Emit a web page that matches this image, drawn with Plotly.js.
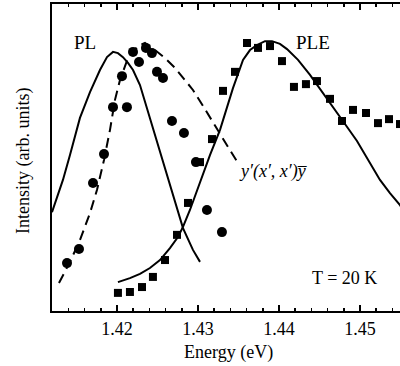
<!DOCTYPE html>
<html>
<head>
<meta charset="utf-8">
<script src="https://cdn.plot.ly/plotly-3.0.1.min.js"></script>
<style>html,body{margin:0;padding:0;background:#fff;}#chart{width:400px;height:366px;}</style>
</head>
<body>
<div id="chart"></div>
<script>
// Circles (data points, polarisation y'(x',x')y-bar)
const circE = [1.41383,1.41531,1.41704,1.41840,1.41951,1.42062,1.42123,1.42198,1.42272,1.42358,1.42432,1.42494,1.42568,1.42679,1.42827,1.42975,1.43111,1.43296];
const circI = [15.6,20.2,41.7,51.1,66.4,76.5,66.4,84.4,81.1,85.7,84.0,77.9,75.9,61.9,58.0,48.5,32.9,25.7];
// Squares (PLE data)
const sqE = [1.42012,1.42160,1.42309,1.42444,1.42593,1.42741,1.42877,1.43025,1.43173,1.43309,1.43457,1.43605,1.43741,1.43889,1.44037,1.44185,1.44333,1.44469,1.44630,1.44778,1.44914,1.45074,1.45222,1.45358,1.45494];
const sqI = [5.9,6.2,7.8,11.1,16.6,24.8,35.2,48.5,56.0,71.7,77.9,87.3,85.7,86.3,81.4,73.0,73.9,74.9,69.1,61.9,65.5,64.5,61.2,62.5,60.9];
// PL solid curve
const plE = [1.41198,1.41333,1.41420,1.41543,1.41667,1.41790,1.41877,1.41951,1.42012,1.42074,1.42136,1.42198,1.42284,1.42407,1.42531,1.42654,1.42815,1.42938,1.43025];
const plI = [32.2,42.7,50.8,62.9,71.3,78.5,82.7,84.4,84.0,82.7,80.8,78.5,73.6,62.9,52.4,41.7,27.0,19.9,16.0];
// Dashed curve
const dashE = [1.41284,1.41420,1.41543,1.41667,1.41753,1.41840,1.41914,1.41975,1.42037,1.42136,1.42259,1.42346,1.42469,1.42593,1.42716,1.42840,1.42938,1.43062,1.43210,1.43395,1.43494];
const dashI = [9.1,16.0,23.1,31.9,39.4,49.2,59.0,68.7,75.2,82.4,86.3,87.3,85.0,82.4,79.2,75.2,72.0,66.8,60.6,52.4,48.2];
// PLE solid curve
const pleE = [1.42012,1.42160,1.42284,1.42407,1.42531,1.42654,1.42753,1.42815,1.42901,1.43025,1.43148,1.43272,1.43432,1.43556,1.43642,1.43728,1.43827,1.43914,1.44012,1.44099,1.44235,1.44383,1.44531,1.44667,1.44815,1.44963,1.45099,1.45247,1.45370,1.45494,1.45556];
const pleI = [9.4,10.7,12.1,14.0,16.6,20.5,24.1,27.4,32.9,42.0,50.8,59.0,72.6,81.8,85.0,86.6,87.9,87.9,87.0,85.3,81.8,76.9,71.3,66.4,60.9,55.4,49.2,42.7,38.4,34.5,32.0];
const tickVals = [1.42,1.43,1.44,1.45];
const tickText = ['1.42','1.43','1.44','1.45'];

const serif = 'Liberation Serif, Times New Roman, serif';
const traces = [
  {x: plE, y: plI, mode: 'lines', line: {color: '#000', width: 2}, hoverinfo: 'skip'},
  {x: dashE, y: dashI, mode: 'lines', line: {color: '#000', width: 2, dash: '10px,6px'}, hoverinfo: 'skip'},
  {x: pleE, y: pleI, mode: 'lines', line: {color: '#000', width: 2}, hoverinfo: 'skip'},
  {x: circE, y: circI, mode: 'markers', marker: {symbol: 'circle', size: 10, color: '#000'}},
  {x: sqE, y: sqI, mode: 'markers', marker: {symbol: 'square', size: 8, color: '#000'}}
];
const layout = {
  width: 400, height: 366,
  margin: {l: 52, r: 0, t: 4, b: 55},
  showlegend: false,
  paper_bgcolor: '#fff', plot_bgcolor: '#fff',
  font: {family: serif, color: '#000', size: 18},
  xaxis: {
    range: [1.41198, 1.45494],
    tickvals: tickVals, ticktext: tickText,
    ticks: 'inside', ticklen: 6, tickwidth: 1.5, tickcolor: '#000',
    minor: {dtick: 0.002, tick0: 1.42, ticks: 'inside', ticklen: 3, tickwidth: 1.5, tickcolor: '#000'},
    showline: true, linewidth: 2, linecolor: '#000', mirror: 'ticks',
    showgrid: false, zeroline: false,
    tickfont: {family: serif, size: 18, color: '#000'}
  },
  yaxis: {
    range: [0, 100],
    showticklabels: false, ticks: '',
    showline: true, linewidth: 2, linecolor: '#000',
    showgrid: false, zeroline: false
  },
  annotations: [
    {xref: 'paper', yref: 'paper', x: 0.506, y: -0.1336, text: 'Energy (eV)', showarrow: false, xanchor: 'center', yanchor: 'middle', font: {family: serif, size: 18}},
    {xref: 'paper', yref: 'paper', x: -0.082, y: 0.49, text: 'Intensity (arb. units)', textangle: -90, showarrow: false, xanchor: 'center', yanchor: 'middle', font: {family: serif, size: 18}},
    {xref: 'x', yref: 'y', x: 1.4161, y: 87.3, text: 'PL', showarrow: false, xanchor: 'center', yanchor: 'middle', font: {family: serif, size: 19}},
    {xref: 'x', yref: 'y', x: 1.4442, y: 87.3, text: 'PLE', showarrow: false, xanchor: 'center', yanchor: 'middle', font: {family: serif, size: 19}},
    {xref: 'x', yref: 'y', x: 1.4348, y: 45.6, text: '<i>y′(x′, x′)y̅</i>', showarrow: false, xanchor: 'left', yanchor: 'middle', font: {family: serif, size: 18}},
    {xref: 'x', yref: 'y', x: 1.4481, y: 10.7, text: 'T = 20 K', showarrow: false, xanchor: 'center', yanchor: 'middle', font: {family: serif, size: 18}}
  ]
};
Plotly.newPlot('chart', traces, layout, {displayModeBar: false, staticPlot: true});
</script>
</body>
</html>
